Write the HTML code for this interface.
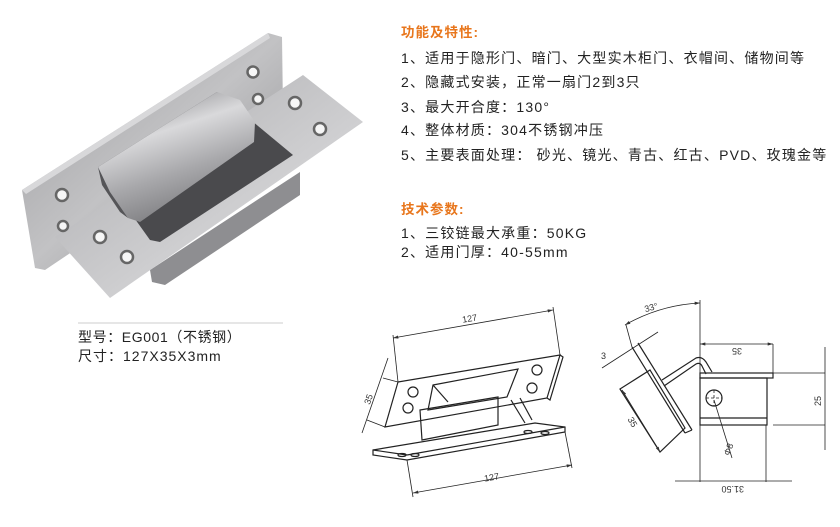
<!DOCTYPE html>
<html><head><meta charset="utf-8"><style>
html,body{margin:0;padding:0;background:#fff;}
body{width:840px;height:527px;position:relative;overflow:hidden;font-family:"Liberation Sans","Noto Sans CJK SC",sans-serif;color:#222;}
.t{position:absolute;white-space:nowrap;font-size:14px;line-height:16px;letter-spacing:1.2px;}
.h{color:#e8761c;font-weight:bold;font-size:13.5px;letter-spacing:1px;}
svg{position:absolute;left:0;top:0;}
</style></head><body>
<svg width="840" height="527" viewBox="0 0 840 527">
<defs>
<linearGradient id="g1" x1="0" y1="0" x2="1" y2="1"><stop offset="0" stop-color="#9a9a9d"/><stop offset="0.5" stop-color="#c2c2c4"/><stop offset="1" stop-color="#8a8a8d"/></linearGradient>
<linearGradient id="g2" x1="0" y1="0" x2="1" y2="1"><stop offset="0" stop-color="#a9a9ac"/><stop offset="0.6" stop-color="#cfcfd1"/><stop offset="1" stop-color="#9a9a9d"/></linearGradient>
<linearGradient id="g3" x1="0.3" y1="0" x2="0.7" y2="1"><stop offset="0" stop-color="#8e8e91"/><stop offset="0.3" stop-color="#d9d9db"/><stop offset="0.6" stop-color="#a8a8ab"/><stop offset="1" stop-color="#707073"/></linearGradient>
<marker id="a" viewBox="0 0 10 6" refX="10" refY="3" markerWidth="7" markerHeight="4" orient="auto-start-reverse"><path d="M0,0 L10,3 L0,6z" fill="#333"/></marker>
</defs>
<!-- photo -->
<polygon points="22,190 268,33 282,37 283,110 45,270 35,268" fill="url(#g1)"/>
<polygon points="22,190 268,33 270,38 26,194" fill="#d8d8da"/>
<polygon points="150,270 300,172 300,195 165,285 152,282" fill="#8e8e91"/>
<polygon points="55,237 303,75 363,122 110,298" fill="url(#g2)"/>
<polygon points="98,167 217,92 293,155 160,242 150,240" fill="#4a4a4d"/>
<polygon points="98,167 217,92 240,100 255,122 254,142 140,222 128,218 110,192" fill="url(#g3)"/>
<polygon points="98,167 110,192 128,218 120,212 102,185" fill="#555558"/>
<g fill="#f6f6f6" stroke="#666" stroke-width="2.5">
<circle cx="253" cy="72" r="5.5"/><circle cx="258" cy="99" r="5"/>
<circle cx="295" cy="103" r="6"/><circle cx="320" cy="129" r="6"/>
<circle cx="62" cy="195" r="6"/><circle cx="63" cy="226" r="5"/>
<circle cx="100" cy="237" r="6"/><circle cx="127" cy="257" r="6"/>
</g>
<line x1="78" y1="323" x2="283" y2="323" stroke="#ccc" stroke-width="1"/>
<!-- left drawing -->
<g fill="none" stroke="#222" stroke-width="1.2">
<polygon points="398,382 560,355 547,398 385,427"/>
<polyline points="560,355 563,357 550,400 547,398"/>
<polygon points="433,385 518,369 507,397 428,410"/>
<line x1="433" y1="385" x2="448" y2="402"/>
<polygon points="420,410 498,397 498,425 422,440"/>
<polygon points="373,450 535,423 565,427 565,432 407,460 373,455"/>
<line x1="373" y1="450" x2="407" y2="455"/><line x1="407" y1="455" x2="565" y2="427"/>
<line x1="511" y1="400" x2="525" y2="423"/><line x1="520" y1="398" x2="532" y2="420"/>
<circle cx="413" cy="392" r="5"/><circle cx="408" cy="408" r="5"/><circle cx="537" cy="370" r="5"/><circle cx="532" cy="388" r="5"/>
<ellipse cx="402" cy="455" rx="4" ry="1.5"/><ellipse cx="415" cy="455" rx="4" ry="1.5"/><ellipse cx="528" cy="432" rx="4" ry="1.5"/><ellipse cx="545" cy="433" rx="4" ry="1.5"/>
<g stroke-width="0.8">
<line x1="393" y1="338" x2="553" y2="310" marker-start="url(#a)" marker-end="url(#a)"/><line x1="398" y1="382" x2="393" y2="335"/><line x1="560" y1="355" x2="553" y2="307"/>
<line x1="362" y1="433" x2="388" y2="358"/><line x1="398" y1="382" x2="383" y2="378"/><line x1="385" y1="427" x2="367" y2="420"/>
<line x1="413" y1="493" x2="572" y2="465" marker-start="url(#a)" marker-end="url(#a)"/><line x1="407" y1="460" x2="413" y2="497"/><line x1="565" y1="432" x2="572" y2="468"/>
</g>
</g>
<g font-family="Liberation Sans" font-size="9" fill="#333">
<text x="462" y="322" transform="rotate(-10 467 318)">127</text>
<text x="484" y="481" transform="rotate(-10 488 477)">127</text>
<text x="362" y="402" transform="rotate(-70 368 398)">35</text>
</g>
<!-- right drawing -->
<g fill="none" stroke="#222" stroke-width="1.2">
<rect x="700" y="373" width="73" height="5"/>
<rect x="700" y="378" width="67" height="47"/>
<line x1="700" y1="418" x2="767" y2="418"/>
<circle cx="714" cy="398" r="8"/>
<line x1="632" y1="347" x2="685" y2="433"/><line x1="638" y1="343" x2="692" y2="430"/><line x1="685" y1="433" x2="692" y2="430"/>
<polygon points="620,389 650,370 685,428 660,452"/>
<path d="M662,380 L696,358 Q702,356 706,362 L712,372"/>
<path d="M664,386 L696,364 Q700,362 702,366 L706,374"/>
<g stroke-width="0.8">
<path d="M625,325 Q660,305 700,303" marker-start="url(#a)" marker-end="url(#a)"/>
<line x1="700" y1="300" x2="700" y2="482"/>
<line x1="626" y1="325" x2="632" y2="347"/>
<line x1="602" y1="368" x2="658" y2="332"/>
<line x1="700" y1="344" x2="773" y2="344" marker-start="url(#a)" marker-end="url(#a)"/><line x1="773" y1="344" x2="773" y2="373"/>
<line x1="825" y1="347" x2="825" y2="450"/><line x1="773" y1="373" x2="825" y2="373"/><line x1="773" y1="425" x2="825" y2="425"/>
<line x1="675" y1="481" x2="792" y2="481"/><line x1="766" y1="425" x2="766" y2="482"/>
<line x1="732" y1="458" x2="714" y2="400"/>
<line x1="706" y1="398" x2="722" y2="398" stroke-dasharray="3 2"/><line x1="714" y1="390" x2="714" y2="406" stroke-dasharray="3 2"/>
<line x1="622" y1="390" x2="660" y2="452" marker-start="url(#a)" marker-end="url(#a)"/>
</g>
</g>
<g font-family="Liberation Sans" font-size="9" fill="#333">
<text x="644" y="310" transform="rotate(-15 653 306)">33°</text>
<text x="601" y="359">3</text>
<text x="730" y="354" transform="rotate(180 736 351)">35</text>
<text x="811" y="402" transform="rotate(-90 818 399)">25</text>
<text x="720" y="494" transform="rotate(180 732 490)">31.50</text>
<text x="723" y="455" transform="rotate(-70 727 451)">Φ8</text>
<text x="627" y="426" transform="rotate(60 633 423)">35</text>
</g>
</svg>
<div class="t h" style="left:401px;top:25px;">功能及特性:</div>
<div class="t" style="left:401px;top:50px;">1、适用于隐形门、暗门、大型实木柜门、衣帽间、储物间等</div>
<div class="t" style="left:401px;top:74px;">2、隐藏式安装，正常一扇门2到3只</div>
<div class="t" style="left:401px;top:99px;">3、最大开合度：130°</div>
<div class="t" style="left:401px;top:122px;">4、整体材质：304不锈钢冲压</div>
<div class="t" style="left:401px;top:147px;">5、主要表面处理： 砂光、镜光、青古、红古、PVD、玫瑰金等</div>
<div class="t h" style="left:401px;top:202px;">技术参数:</div>
<div class="t" style="left:401px;top:225px;">1、三铰链最大承重：50KG</div>
<div class="t" style="left:401px;top:244px;">2、适用门厚：40-55mm</div>
<div class="t" style="left:78px;top:329px;letter-spacing:0.6px;">型号：EG001（不锈钢）</div>
<div class="t" style="left:78px;top:348px;letter-spacing:1px;">尺寸：127X35X3mm</div>
</body></html>
